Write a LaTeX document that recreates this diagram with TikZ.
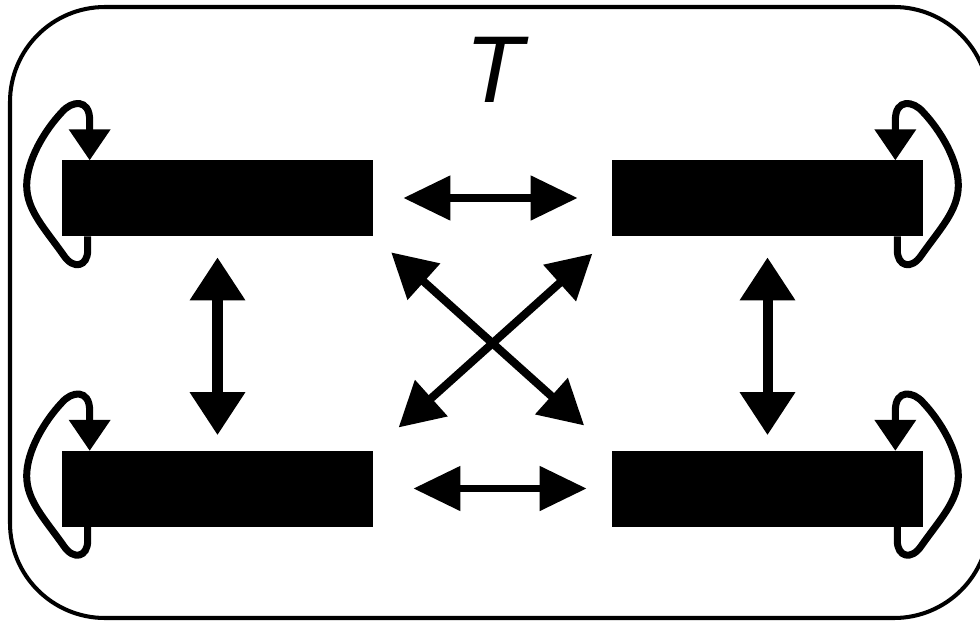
\documentclass[tikz,border=0pt]{standalone}
\usepackage{fontspec}
\setmainfont{Liberation Sans}
\usetikzlibrary{arrows.meta}

\tikzset{
  bar/.style={fill=black, inner sep=0pt, minimum width=6.22cm, minimum height=1.52cm},
  frame/.style={line width=2.3pt, rounded corners=1.9cm},
  hlink/.style={line width=4.5pt, {Triangle[length=0.94cm,width=0.86cm]}-{Triangle[length=0.94cm,width=0.86cm]}},
  vlink/.style={line width=5.7pt, {Triangle[length=0.86cm,width=1.06cm]}-{Triangle[length=0.86cm,width=1.06cm]}},
  dlink/.style={line width=4.6pt, {Triangle[length=0.88cm,width=0.94cm]}-{Triangle[length=0.88cm,width=0.94cm]}},
  selfloop/.style={line width=4pt, -{Triangle[length=0.62cm,width=0.8cm]}}
}

\begin{document}
\begin{tikzpicture}[x=0.02cm,y=-0.02cm]
	\useasboundingbox (0,0) rectangle (980,622);
	\draw[frame] (10,7) rectangle (989,618);
	
	\node (T) at (497,70) {\fontsize{54}{60}\selectfont\textit{T}};
	
	\node[bar] (tl) at (217.5,198) {};
	\node[bar] (tr) at (767.5,198) {};
	\node[bar] (bl) at (217.5,488.5) {};
	\node[bar] (br) at (767.5,488.5) {};
	
	% links between the bars
	\draw[hlink, shorten <=0.6cm, shorten >=0.68cm] (tl.east) -- (tr.west);
	\draw[hlink, shorten <=0.8cm, shorten >=0.5cm] (bl.east) -- (br.west);
	\draw[vlink, shorten <=0.42cm, shorten >=0.3cm] (tl.south) -- (bl.north);
	\draw[vlink, shorten <=0.42cm, shorten >=0.3cm] (tr.south) -- (br.north);
	\draw[dlink, shorten <=0.48cm, shorten >=0.74cm] (tl.south east) -- (br.north west);
	\draw[dlink, shorten <=0.52cm, shorten >=0.68cm] (tr.south west) -- (bl.north east);
	
	% self loops
	\foreach \b/\c/\s in {tl/south west/1, bl/south west/1, tr/south east/-1, br/south east/-1}
		\draw[selfloop, shift={(\b.\c)}, xscale=\s] (26,0) -- (26,14)
			.. controls (26,30) and (12,34) .. (2,19)
			.. controls (-17,-8) and (-35,-26) .. (-35,-51)
			.. controls (-35,-76) and (-17,-106) .. (0,-124)
			.. controls (10,-136) and (28,-138) .. (28,-116) -- (28,-76);
\end{tikzpicture}
\end{document}
